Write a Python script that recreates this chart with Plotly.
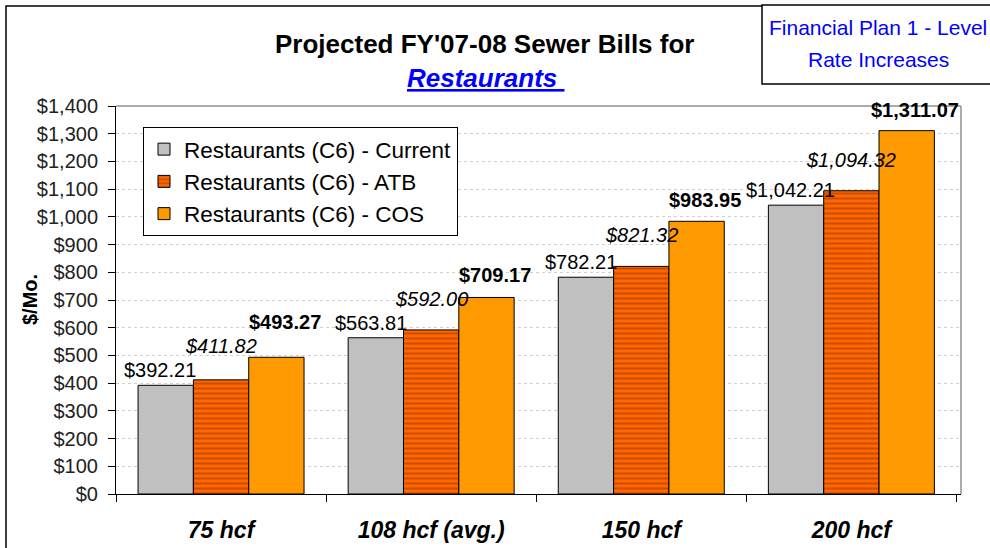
import plotly.graph_objects as go

categorias = ['75 hcf', '108 hcf (avg.)', '150 hcf', '200 hcf']
atual = [392.21, 563.81, 782.21, 1042.21]
atb = [411.82, 592.00, 821.32, 1094.32]
cos = [493.27, 709.17, 983.95, 1311.07]
nomes = ['Restaurants (C6) - Current', 'Restaurants (C6) - ATB', 'Restaurants (C6) - COS']

FONTE = 'Liberation Sans, Arial, sans-serif'
L, R, T, B = 116, 961, 106, 494   # plot area em pixels
PW, PH = R - L, B - T
YMAX = 1400


def px_x(p):
    return (p - L) / PW


def px_y(p):
    return (B - p) / PH


fig = go.Figure()

fig.add_trace(go.Bar(
    x=categorias, y=atual, name=nomes[0],
    marker=dict(color='#C0C0C0', line=dict(color='black', width=1)),
))
fig.add_trace(go.Bar(
    x=categorias, y=atb, name=nomes[1],
    marker=dict(color='#FF6600', line=dict(color='black', width=1),
                pattern=dict(shape='-', fgcolor='#993300', size=5, solidity=0.4)),
))
fig.add_trace(go.Bar(
    x=categorias, y=cos, name=nomes[2],
    marker=dict(color='#FF9900', line=dict(color='black', width=1)),
))

# rótulos de dados: um estilo por série; cada rótulo sobe o necessário
# para não encostar no rótulo da barra anterior (como ficou no Excel)
largura_barra = PW / 4 * (1 - 0.21) / 3
k = PH / YMAX
ALT = 23
estilos = [
    (atual, '{}', -5, 2),
    (atb, '<i>{}</i>', 0, 18),
    (cos, '<b>{}</b>', 8, 8),
]
topo_anterior = [0] * len(categorias)
for i, (serie, fmt, dx, dy) in enumerate(estilos):
    for j, (cat, v) in enumerate(zip(categorias, serie)):
        shift = max(dy, topo_anterior[j] + 1 - v * k)
        topo_anterior[j] = v * k + shift + ALT
        fig.add_annotation(
            x=cat, y=v, xref='x', yref='y',
            text=fmt.format(f'${v:,.2f}'), showarrow=False,
            xanchor='center', yanchor='bottom',
            xshift=(i - 1) * largura_barra + dx, yshift=shift,
            font=dict(size=20, color='black', family=FONTE),
        )

fig.update_layout(
    width=990, height=548,
    margin=dict(l=L, r=990 - R, t=T, b=548 - B, autoexpand=False),
    paper_bgcolor='white', plot_bgcolor='white',
    font=dict(family=FONTE, color='black'),
    barmode='group', bargap=0.21, bargroupgap=0,
    showlegend=True,
    legend=dict(
        x=px_x(143), y=px_y(127), xanchor='left', yanchor='top',
        bgcolor='white', bordercolor='black', borderwidth=1,
        font=dict(size=22.5, family=FONTE, color='black'),
        itemwidth=30,
    ),
)

fig.update_yaxes(
    range=[0, YMAX], dtick=100, tickprefix='$', tickformat=',',
    showline=True, linecolor='black', linewidth=1, automargin=False,
    ticks='outside', ticklen=7, tickcolor='black', ticklabelstandoff=6,
    showgrid=True, gridcolor='#D0D0D0', griddash='dot', gridwidth=1,
    tickfont=dict(size=20, color='#222222', family=FONTE),
    zeroline=False,
)
fig.update_xaxes(
    showline=True, linecolor='black', linewidth=1, automargin=False,
    ticks='outside', tickson='boundaries', ticklen=7, tickcolor='black',
    ticklabelstandoff=15,
    tickfont=dict(size=23, color='black', family=FONTE),
    ticktext=[f'<b><i>{c}</i></b>' for c in categorias], tickvals=categorias,
)

# borda cinza do plot area (topo e direita)
fig.add_shape(type='line', xref='paper', yref='paper', x0=0, x1=1, y0=1, y1=1,
              line=dict(color='#909090', width=1.5))
fig.add_shape(type='line', xref='paper', yref='paper', x0=1, x1=1, y0=0, y1=1,
              line=dict(color='#909090', width=1.5))

# moldura externa do grafico
fig.add_shape(type='rect', xref='paper', yref='paper',
              x0=px_x(6), x1=px_x(1000), y0=px_y(560), y1=px_y(6),
              line=dict(color='black', width=1.5))

# caixa do plano financeiro
fig.add_shape(type='rect', xref='paper', yref='paper',
              x0=px_x(762), x1=px_x(1000), y0=px_y(84), y1=px_y(5),
              line=dict(color='black', width=1.5), fillcolor='white')

for texto, yy in [('Financial Plan 1 - Level', 27), ('Rate Increases', 60)]:
    fig.add_annotation(x=px_x(878), y=px_y(yy), xref='paper', yref='paper',
                       xanchor='center', yanchor='middle',
                       text=texto, showarrow=False,
                       font=dict(size=21, color='#0000FF', family=FONTE))

# titulo
fig.add_annotation(x=px_x(484), y=px_y(44), xref='paper', yref='paper',
                   xanchor='center', yanchor='middle',
                   text="<b>Projected FY'07-08 Sewer Bills for</b>", showarrow=False,
                   font=dict(size=26, color='black', family=FONTE))
fig.add_annotation(x=px_x(486), y=px_y(78), xref='paper', yref='paper',
                   xanchor='center', yanchor='middle',
                   text='<b><i><u>Restaurants </u></i></b>', showarrow=False,
                   font=dict(size=26, color='#0000FF', family=FONTE))

# titulo do eixo y
fig.add_annotation(x=px_x(30), y=px_y(300), xref='paper', yref='paper',
                   xanchor='center', yanchor='middle',
                   text='<b>$/Mo.</b>', showarrow=False, textangle=-90,
                   font=dict(size=20, color='black', family=FONTE))

fig.write_html('out.html', config={'displayModeBar': False},
               post_script="document.body.style.margin='0';")
